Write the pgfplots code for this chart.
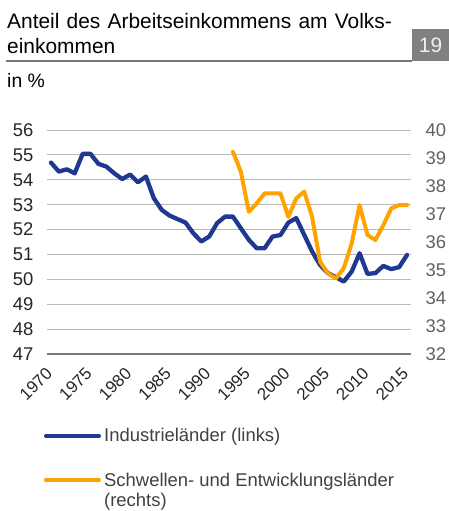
\documentclass[border=0pt]{standalone}
\usepackage{fontspec}
\setmainfont{Liberation Sans}
\usepackage{pgfplots}
\pgfplotsset{compat=1.18}
\definecolor{indblue}{RGB}{31,56,145}
\definecolor{emorange}{RGB}{255,163,0}
\definecolor{gridgray}{RGB}{185,185,185}
\definecolor{axisgray}{RGB}{120,120,120}
\definecolor{boxgray}{RGB}{128,128,128}
\definecolor{txtgray}{RGB}{64,64,64}

% Industrielaender (links), 1970-2015
\pgfplotstableread{
year val
1970 54.69
1971 54.33
1972 54.42
1973 54.26
1974 55.04
1975 55.04
1976 54.64
1977 54.53
1978 54.26
1979 54.03
1980 54.21
1981 53.90
1982 54.13
1983 53.26
1984 52.79
1985 52.56
1986 52.42
1987 52.28
1988 51.85
1989 51.52
1990 51.72
1991 52.26
1992 52.52
1993 52.52
1994 52.05
1995 51.59
1996 51.25
1997 51.25
1998 51.72
1999 51.78
2000 52.28
2001 52.46
2002 51.79
2003 51.12
2004 50.58
2005 50.25
2006 50.09
2007 49.91
2008 50.31
2009 51.05
2010 50.22
2011 50.25
2012 50.54
2013 50.41
2014 50.49
2015 50.98
}\industrie

% Schwellen- und Entwicklungslaender (rechts), 1993-2015
\pgfplotstableread{
year val
1993 39.22
1994 38.51
1995 37.08
1996 37.38
1997 37.74
1998 37.74
1999 37.74
2000 36.90
2001 37.56
2002 37.80
2003 36.90
2004 35.30
2005 34.88
2006 34.70
2007 35.06
2008 35.95
2009 37.32
2010 36.25
2011 36.07
2012 36.60
2013 37.20
2014 37.32
2015 37.32
}\schwellen

\begin{document}
\begin{tikzpicture}[x=1bp,y=1bp]
\useasboundingbox (0,0) rectangle (449,-511);

% title block
\node[anchor=base west, inner sep=0, font=\fontsize{21}{24}\selectfont] at (7,-28.3) {\spaceskip=7.2bp\relax Anteil des Arbeitseinkommens am Volks-};
\node[anchor=base west, inner sep=0, font=\fontsize{21}{24}\selectfont] at (7,-53.3) {einkommen};
\fill[boxgray] (412,-29) rectangle (449,-61);
\node[text=white!94!black, font=\fontsize{21}{24}\selectfont] at (430.5,-45) {19};
\draw[line width=2bp, axisgray] (6,-61) -- (412,-61);
\node[anchor=base west, inner sep=0, font=\fontsize{19.5}{22}\selectfont] at (7,-88) {in \%};

\begin{axis}[
    at={(47bp,-354bp)}, anchor=south west,
    scale only axis, width=364bp, height=224bp,
    xmin=1969.5, xmax=2015.5,
    ymin=47, ymax=56,
    xtick={1970,1975,...,2015},
    ytick={47,48,...,56},
    major tick length=0pt,
    axis x line*=bottom, axis y line*=left,
    x axis line style={draw=axisgray, line width=1.3bp, -},
    y axis line style={draw=none},
    ymajorgrids, grid style={gridgray, line width=1bp},
    /pgf/number format/assume math mode=true,
    /pgf/number format/1000 sep={},
    yticklabel style={font=\fontsize{18.5}{20}\selectfont, text=black!85},
    yticklabel shift=10bp,
    xticklabel style={font=\fontsize{17}{19}\selectfont, text=black!85, rotate=45, anchor=east, xshift=1bp},
    xticklabel shift=15bp,
    clip=false,
]
\addplot[indblue, line width=4.3bp, line join=round, line cap=round] table[x=year, y=val] {\industrie};
\end{axis}

\begin{axis}[
    at={(47bp,-354bp)}, anchor=south west,
    scale only axis, width=364bp, height=224bp,
    xmin=1969.5, xmax=2015.5,
    ymin=32, ymax=40,
    ytick={32,33,...,40},
    major tick length=0pt,
    axis x line=none, axis y line*=right,
    y axis line style={draw=none},
    /pgf/number format/assume math mode=true,
    yticklabel style={font=\fontsize{18.5}{20}\selectfont, text=black!62},
    yticklabel shift=11bp,
    clip=false,
]
\addplot[emorange, line width=4bp, line join=round, line cap=round] table[x=year, y=val] {\schwellen};
\end{axis}

% legend
\draw[indblue, line width=4bp, line cap=round] (46,-436) -- (99,-436);
\node[anchor=base west, inner sep=0, text=txtgray, font=\fontsize{18.5}{21}\selectfont] at (104,-441.7) {Industrieländer (links)};
\draw[emorange, line width=4bp, line cap=round] (46,-480) -- (99,-480);
\node[anchor=base west, inner sep=0, text=txtgray, font=\fontsize{18.5}{21}\selectfont] at (104,-486.5) {Schwellen- und Entwicklungsländer};
\node[anchor=base west, inner sep=0, text=txtgray, font=\fontsize{18.5}{21}\selectfont] at (104,-506.5) {(rechts)};
\end{tikzpicture}
\end{document}
